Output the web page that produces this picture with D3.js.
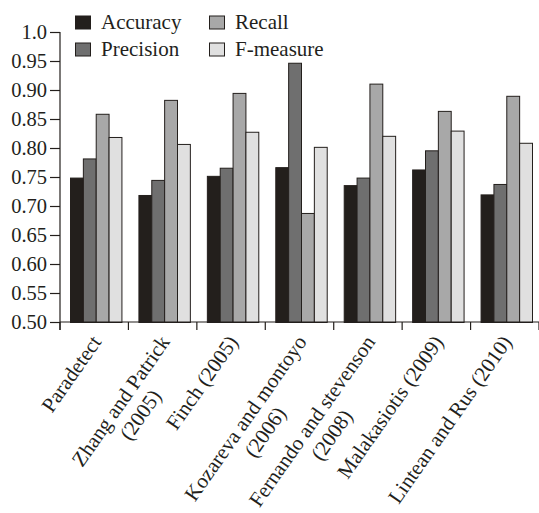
<!DOCTYPE html>
<html>
<head>
<meta charset="utf-8">
<script src="https://cdn.jsdelivr.net/npm/d3@7"></script>
<style>
  html, body { margin: 0; padding: 0; background: #fff; }
  svg { display: block; }
</style>
</head>
<body>
<svg id="chart" width="539" height="513"></svg>
<script>
// ---- data ----
const categories = [
  ["Paradetect"],
  ["Zhang and Patrick", "(2005)"],
  ["Finch (2005)"],
  ["Kozareva and montoyo", "(2006)"],
  ["Fernando and stevenson", "(2008)"],
  ["Malakasiotis (2009)"],
  ["Lintean and Rus (2010)"]
];
const seriesNames = ["Accuracy", "Precision", "Recall", "F-measure"];
const accuracy  = [0.749, 0.719, 0.752, 0.767, 0.736, 0.763, 0.720];
const precision = [0.782, 0.745, 0.766, 0.947, 0.749, 0.796, 0.738];
const recall    = [0.859, 0.883, 0.895, 0.688, 0.911, 0.864, 0.890];
const fmeasure  = [0.819, 0.807, 0.828, 0.802, 0.821, 0.830, 0.809];
const yTicks = [0.50, 0.55, 0.60, 0.65, 0.70, 0.75, 0.80, 0.85, 0.90, 0.95, 1.0];
const yTickLabels = ["0.50","0.55","0.60","0.65","0.70","0.75","0.80","0.85","0.90","0.95","1.0"];

const seriesValues = [accuracy, precision, recall, fmeasure];
const colors = ["#231f1c", "#6f6f6f", "#a8a8a8", "#e0e0e0"];
const ink = "#231f1c";
const FONT = "'Liberation Serif', Tinos, 'Times New Roman', 'DejaVu Serif', serif";

const svg = d3.select("#chart");
const mLeft = 60, mRight = 539, mTop = 32, mBottom = 322;

const x = d3.scaleBand().domain(d3.range(categories.length)).range([mLeft, mRight]).padding(0);
const bw = x.bandwidth();
const xs = d3.scaleBand().domain(d3.range(seriesNames.length)).range([10, bw - 7]).padding(0);
const y = d3.scaleLinear().domain([0.5, 1.0]).range([mBottom, mTop]);

// bars
const groups = svg.append("g").selectAll("g")
  .data(categories.map((c, i) => i))
  .join("g")
  .attr("transform", i => `translate(${x(i)},0)`);

groups.selectAll("rect")
  .data(i => seriesValues.map((vals, s) => ({ s, v: vals[i] })))
  .join("rect")
  .attr("x", d => xs(d.s) + 0.5)
  .attr("y", d => y(d.v) + 0.5)
  .attr("width", xs.bandwidth())
  .attr("height", d => mBottom - y(d.v))
  .attr("fill", d => colors[d.s])
  .attr("stroke", ink)
  .attr("stroke-width", 1);

// y axis
const yAxis = d3.axisLeft(y)
  .tickValues(yTicks)
  .tickFormat((d, i) => yTickLabels[i])
  .tickSize(10)
  .tickPadding(3);
const gy = svg.append("g").attr("transform", `translate(${mLeft},0)`).call(yAxis)
  .attr("font-family", FONT).attr("font-size", 20.5);
gy.select(".domain").attr("d", `M0,${mTop}V${mBottom + 8}`).attr("stroke", ink).attr("stroke-width", 1.2);
gy.selectAll(".tick line").attr("stroke", ink).attr("stroke-width", 1.2);
gy.selectAll(".tick text")
  .attr("font-family", FONT)
  .attr("font-size", 20.5)
  .attr("fill", ink);

// x axis: ticks at band boundaries
const boundaries = d3.range(categories.length + 1).map(i => mLeft + i * bw);
const gx = svg.append("g");
gx.append("line")
  .attr("x1", mLeft).attr("x2", mRight)
  .attr("y1", mBottom).attr("y2", mBottom)
  .attr("stroke", ink).attr("stroke-width", 1.2);
gx.selectAll("line.tk")
  .data(boundaries)
  .join("line")
  .attr("class", "tk")
  .attr("x1", d => d).attr("x2", d => d)
  .attr("y1", mBottom).attr("y2", mBottom + 8)
  .attr("stroke", ink).attr("stroke-width", 1.2);

// x labels
const fs = 21;
categories.forEach((lines, i) => {
  const cx = x(i) + bw / 2;
  const g = svg.append("g").attr("transform", `translate(${cx + 8},${mBottom + 20}) rotate(-55)`);
  const t1 = g.append("text")
    .attr("text-anchor", "end")
    .attr("font-family", FONT)
    .attr("font-size", fs)
    .attr("fill", ink)
    .text(lines[0]);
  if (lines.length > 1) {
    const w1 = t1.node().getComputedTextLength();
    g.append("text")
      .attr("text-anchor", "middle")
      .attr("x", -w1 / 2)
      .attr("y", fs * 1.15)
      .attr("font-family", FONT)
      .attr("font-size", fs)
      .attr("fill", ink)
      .text(lines[1]);
  }
});

// legend
const legendPos = [[75, 28.5], [75, 55.5], [209, 28.5], [209, 55.5]];
const lg = svg.append("g");
seriesNames.forEach((name, s) => {
  const [lx, ly] = legendPos[s];
  lg.append("rect")
    .attr("x", lx + 0.5).attr("y", ly - 12.5)
    .attr("width", 15).attr("height", 13)
    .attr("fill", colors[s]).attr("stroke", ink).attr("stroke-width", 1);
  lg.append("text")
    .attr("x", lx + 26).attr("y", ly)
    .attr("font-family", FONT)
    .attr("font-size", fs)
    .attr("fill", ink)
    .text(name);
});
</script>
</body>
</html>
